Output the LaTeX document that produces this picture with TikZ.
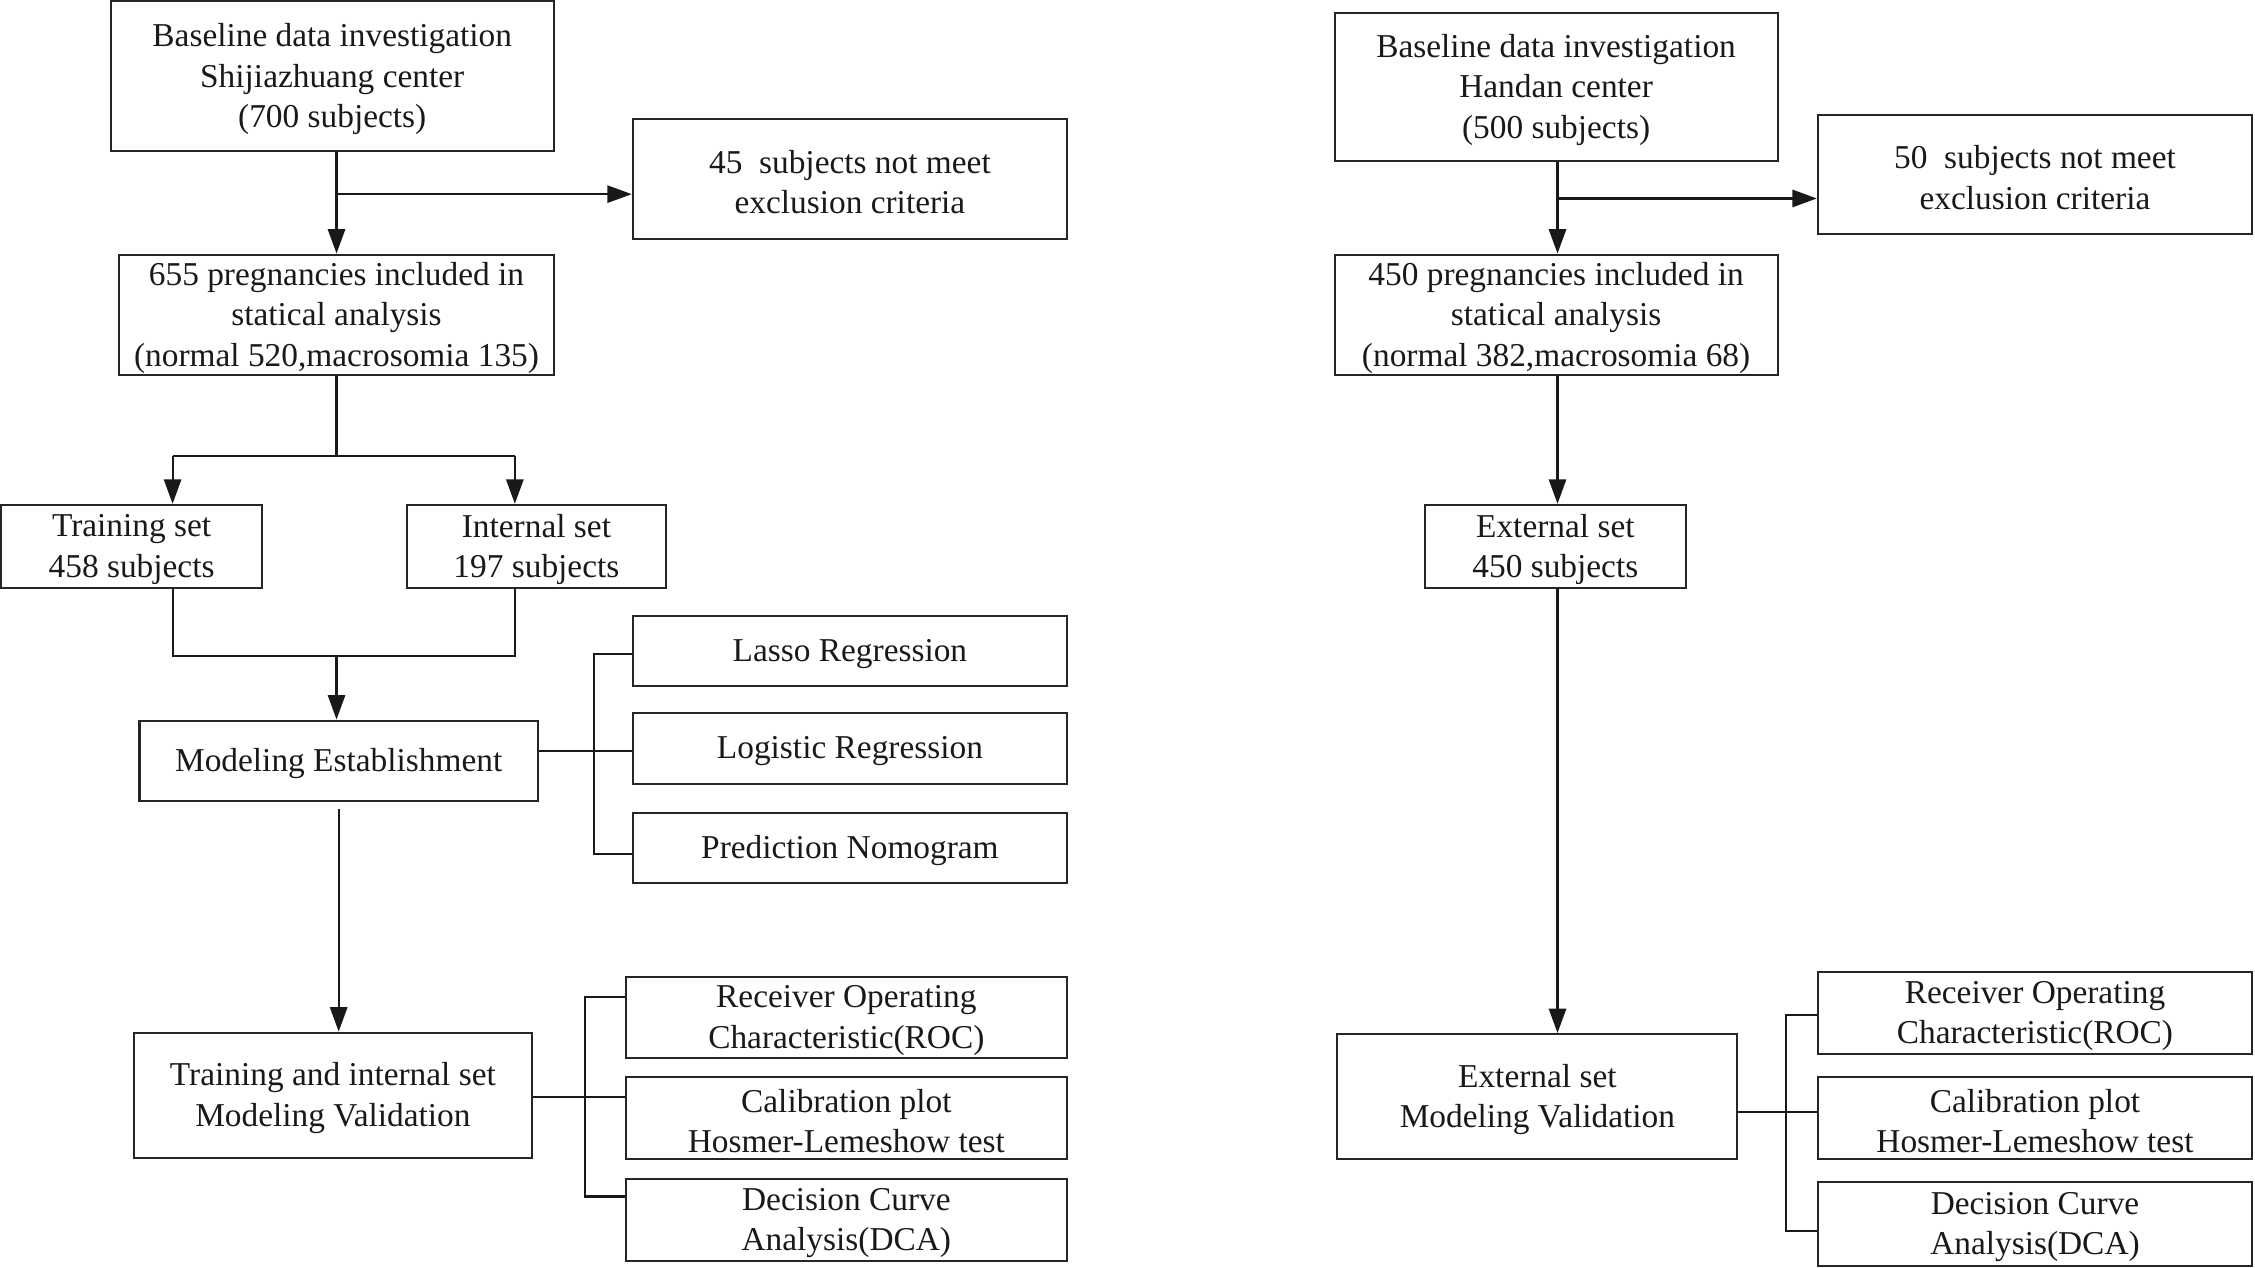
\documentclass[tikz,border=0pt]{standalone}
\usepackage{fontspec}
\setmainfont{Liberation Serif}
\usetikzlibrary{arrows.meta,calc}
\newcommand\boxfont{\fontsize{23.2}{28}\selectfont}
\newcommand\bx[6]{\node[box,minimum width={(#4-#2)*1pt},minimum height={(#5-#3)*1pt}] (#1) at ({(#2+#4)/2},{-(#3+#5)/2}) {};
  \node[txt] (#1-t) at ([yshift=-2pt]#1.center) {#6};}
\tikzset{
  box/.style={draw=black!85,line width=1.4pt,inner sep=0pt},
  txt/.style={align=center,inner sep=0pt,font=\boxfont,text=black!90},
  conn/.style={draw=black!90,line width=1.5pt},
  arr/.style={conn,-{Triangle[length=17pt,width=12pt]}}
}
\begin{document}
\begin{tikzpicture}[x=1pt,y=1pt]
\useasboundingbox (0,0) rectangle (1568,-881);
% left column
\bx{b1}{77}{1}{385}{105}{Baseline data investigation\\Shijiazhuang center\\(700 subjects)}
\bx{ex1}{440}{83}{742}{166}{45\hspace{0.25em} subjects not meet\\exclusion criteria}
\bx{b2}{83}{177}{385}{261}{655 pregnancies included in\\statical analysis\\(normal 520,macrosomia 135)}
\bx{tr}{1}{351}{182}{409}{Training set\\458 subjects}
\bx{in}{283}{351}{463}{409}{Internal set\\197 subjects}
\bx{me}{97}{501}{374}{557}{Modeling Establishment}
\bx{la}{440}{428}{742}{477}{Lasso Regression}
\bx{lo}{440}{496}{742}{545}{Logistic Regression}
\bx{pn}{440}{565}{742}{614}{Prediction Nomogram}
\bx{tiv}{93}{718}{370}{805}{Training and internal set\\Modeling Validation}
\bx{roc}{435}{679}{742}{736}{Receiver Operating\\Characteristic(ROC)}
\bx{cal}{435}{749}{742}{806}{Calibration plot\\Hosmer-Lemeshow test}
\bx{dca}{435}{820}{742}{877}{Decision Curve\\Analysis(DCA)}
% right column
\bx{h1}{928}{9}{1236}{112}{Baseline data investigation\\Handan center\\(500 subjects)}
\bx{ex2}{1264}{80}{1566}{163}{50\hspace{0.25em} subjects not meet\\exclusion criteria}
\bx{h2}{928}{177}{1236}{261}{450 pregnancies included in\\statical analysis\\(normal 382,macrosomia 68)}
\bx{ext}{991}{351}{1172}{409}{External set\\450 subjects}
\bx{emv}{930}{719}{1208}{806}{External set\\Modeling Validation}
\bx{roc2}{1264}{676}{1566}{733}{Receiver Operating\\Characteristic(ROC)}
\bx{cal2}{1264}{749}{1566}{806}{Calibration plot\\Hosmer-Lemeshow test}
\bx{dca2}{1264}{822}{1566}{880}{Decision Curve\\Analysis(DCA)}
% junction coordinates (left)
\coordinate (j1) at (234,-135);
\coordinate (s1) at (234,-317);
\coordinate (ta) at (120,-317);
\coordinate (ia) at (358,-317);
\coordinate (tb) at (120,-456);
\coordinate (ib) at (358,-456);
\coordinate (mj) at (234,-456);
\coordinate (k1) at (413,-455);
\coordinate (k2) at (413,-522);
\coordinate (k3) at (413,-594);
\coordinate (v1) at (407,-693);
\coordinate (v2) at (407,-763);
\coordinate (v3) at (407,-832);
% left connectors
\draw[arr] (b1.south -| j1) -- (b2.north -| j1);
\draw[arr] (j1) -- (j1 -| ex1.west);
\draw[conn] (b2.south -| s1) -- (s1);
\draw[conn] (ta) -- (ia);
\draw[arr] (ta) -- (ta |- tr.north);
\draw[arr] (ia) -- (ia |- in.north);
\draw[conn] (ta |- tr.south) -- (tb) -- (ib) -- (ia |- in.south);
\draw[arr] (mj) -- (mj |- me.north);
\draw[conn] (me.east |- k2) -- (k2 -| lo.west);
\draw[conn] (k1 -| la.west) -- (k1) -- (k3) -- (k3 -| pn.west);
\draw[arr] ($(me.south)+(0,-5)$) -- (me.south |- tiv.north);
\draw[conn] (tiv.east |- v2) -- (v2 -| cal.west);
\draw[conn] (v1 -| roc.west) -- (v1) -- (v3) -- (v3 -| dca.west);
% right junctions
\coordinate (j2) at (1083,-138);
\coordinate (w1) at (1242,-706);
\coordinate (w2) at (1242,-773);
\coordinate (w3) at (1242,-856);
% right connectors
\draw[arr] (h1.south -| j2) -- (h2.north -| j2);
\draw[arr] (j2) -- (j2 -| ex2.west);
\draw[arr] (h2.south -| j2) -- (ext.north -| j2);
\draw[arr] (ext.south -| j2) -- (emv.north -| j2);
\draw[conn] (emv.east |- w2) -- (w2 -| cal2.west);
\draw[conn] (w1 -| roc2.west) -- (w1) -- (w3) -- (w3 -| dca2.west);
\end{tikzpicture}
\end{document}
